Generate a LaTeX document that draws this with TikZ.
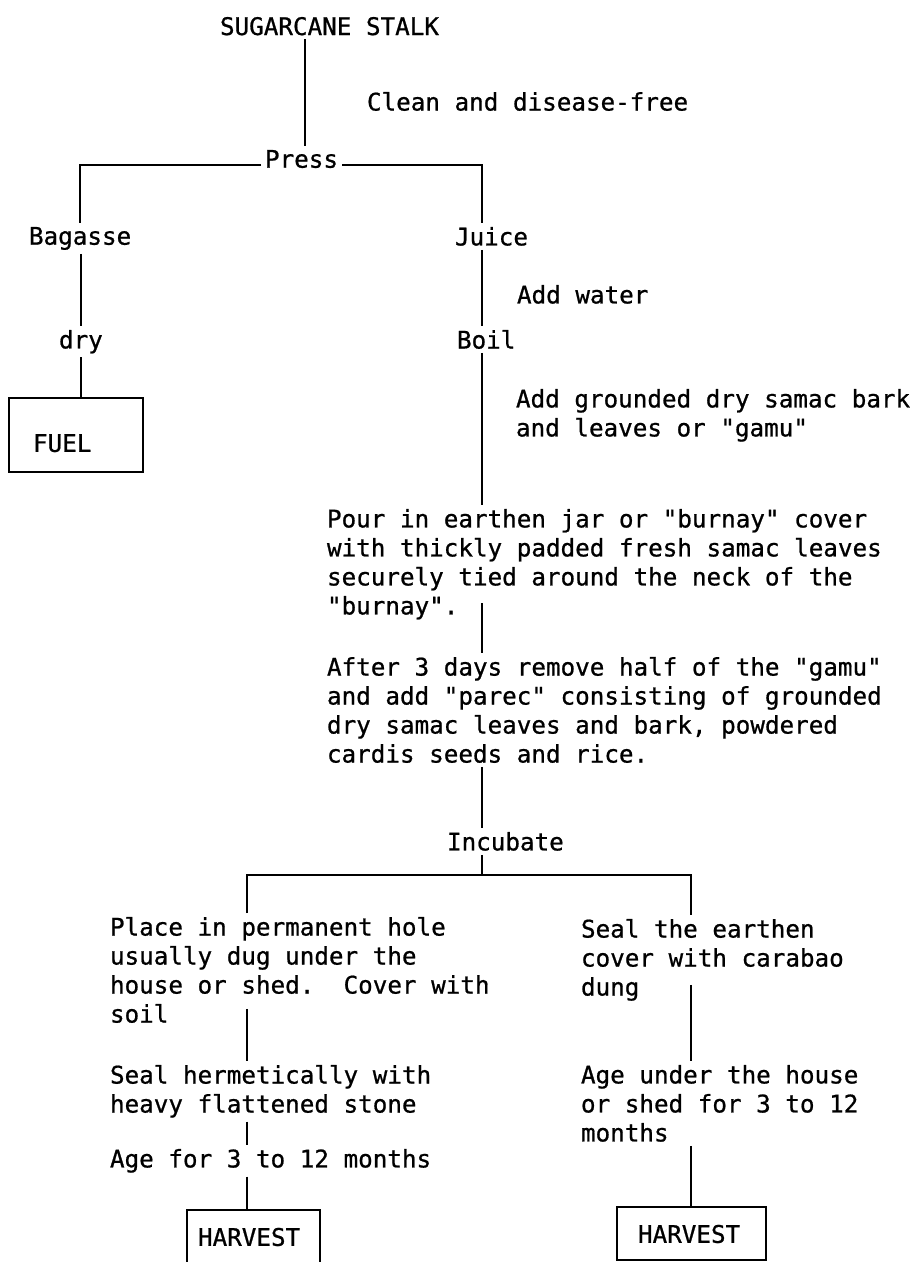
\documentclass[tikz,border=0pt]{standalone}
\usepackage{fontspec}
\newfontfamily\lpfont[FakeBold=0.8]{DejaVu Sans Mono}
\usetikzlibrary{calc}

\begin{document}
\begin{tikzpicture}[x=1pt, y=-1pt,
    stage/.style={anchor=north west, inner sep=0pt, outer sep=0pt, align=left,
        font=\lpfont\fontsize{24.25pt}{29pt}\selectfont},
    endbox/.style={stage, draw, line width=1.8pt, inner ysep=0pt},
    link/.style={line width=1.8pt, shorten <=4pt, shorten >=4pt},
    tobox/.style={link, shorten >=0pt}
]

% Page frame
\useasboundingbox (0,0) rectangle (911,1262);

% Columns of the connectors
\coordinate (scol) at (305,0);
\coordinate (jcol) at (482,0);
\coordinate (lcol) at (247,0);
\coordinate (rcol) at (691,0);
\coordinate (fork) at (482,875);

% Top part
\node[stage] (stalk) at (220,17) {SUGARCANE STALK};
\node[stage] (clean) at (367,92) {Clean and disease-free};
\node[stage] (press) at (265,150) {Press};

% Bagasse branch
\node[stage] (bagasse) at (29,227) {Bagasse};
\node[stage] (dry) at (59,330) {dry};
\node[endbox, text width=86pt, inner xsep=24pt, minimum height=74pt,
    text height=34pt] (fuel) at (9,398) {FUEL};

% Juice branch
\node[stage] (juice) at (455,227) {Juice};
\node[stage] (water) at (517,285) {Add water};
\node[stage] (boil) at (457,330) {Boil};
\node[stage] (grounded) at (516,389) {Add grounded dry samac bark\\and leaves or "gamu"};
\node[stage] (pour) at (327,509) {Pour in earthen jar or "burnay" cover\\with thickly padded fresh samac leaves\\securely tied around the neck of the\\"burnay".};
\node[stage] (after) at (327,657) {After 3 days remove half of the "gamu"\\and add "parec" consisting of grounded\\dry samac leaves and bark, powdered\\cardis seeds and rice.};
\node[stage] (incubate) at (447,832) {Incubate};

% Left ageing
\node[stage] (place) at (110,917) {Place in permanent hole\\usually dug under the\\house or shed.~~Cover with\\soil};
\node[stage] (hermetic) at (110,1065) {Seal hermetically with\\heavy flattened stone};
\node[stage] (agel) at (110,1149) {Age for 3 to 12 months};
\node[endbox, text width=111pt, inner xsep=11pt, minimum height=54pt,
    text height=18pt] (harvl) at (187,1210) {HARVEST};

% Right ageing
\node[stage] (sealr) at (581,919) {Seal the earthen\\cover with carabao\\dung};
\node[stage] (ageu) at (581,1065) {Age under the house\\or shed for 3 to 12\\months};
\node[endbox, text width=107pt, inner xsep=21pt, minimum height=53pt,
    text height=19pt] (harvr) at (617,1207) {HARVEST};

% Connectors
\draw[link] (stalk.south -| scol) -- (press.north -| scol);
\draw[link] ([yshift=3pt]press.base west) -| (bagasse.north);
\draw[link] ([yshift=3pt]press.base east) -| (juice.north -| jcol);
\draw[link] (bagasse.south -| dry.north) -- (dry.north);
\draw[tobox] (dry.south) -- (dry.south |- fuel.north);

\draw[link] (juice.south -| jcol) -- (boil.north -| jcol);
\draw[link] (boil.south -| jcol) -- (pour.north -| jcol);
\draw[link] ($(pour.south -| jcol)+(0,-20)$) -- (after.north -| jcol);
\draw[link] (after.south -| jcol) -- (incubate.north -| jcol);
\draw[link, shorten >=0pt] (incubate.south -| jcol) -- (fork);
\draw[link] (place.north -| lcol) |- (fork) -| (sealr.north -| rcol);

\draw[link] ($(place.south -| lcol)+(0,-18)$) -- (hermetic.north -| lcol);
\draw[link] (hermetic.south -| lcol) -- (agel.north -| lcol);
\draw[tobox] (agel.south -| lcol) -- (harvl.north -| lcol);

\draw[link] ($(sealr.south -| rcol)+(0,-20)$) -- (ageu.north -| rcol);
\draw[tobox] (ageu.south -| rcol) -- (harvr.north -| rcol);

\end{tikzpicture}
\end{document}
